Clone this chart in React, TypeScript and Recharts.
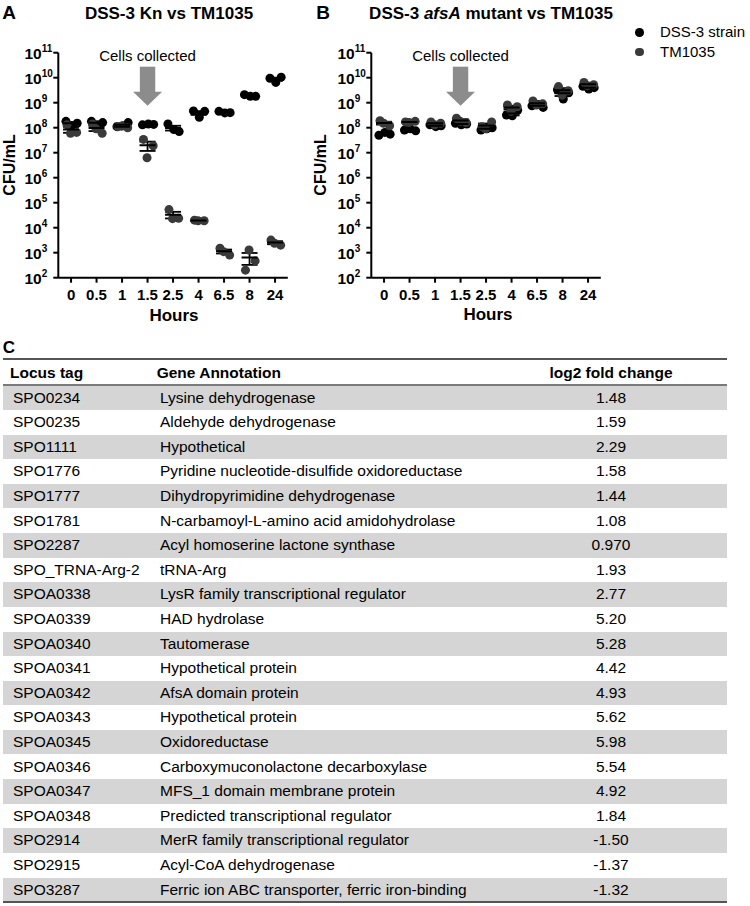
import { ScatterChart, Scatter, XAxis, YAxis, ErrorBar, ReferenceDot } from 'recharts'

const FONT = '"Liberation Sans", Arial, Helvetica, sans-serif'
const DSS_COLOR = '#000000'
const TM_COLOR = '#3a3a3a'
const ARROW_COLOR = '#8c8c8c'

// x categories (hours) and y ticks
const hours = ['0', '0.5', '1', '1.5', '2.5', '4', '6.5', '8', '24']
const collectedAt = '1.5'
const yTicks = [1e2, 1e3, 1e4, 1e5, 1e6, 1e7, 1e8, 1e9, 1e10, 1e11]

// panel A: DSS-3 Kn vs TM1035, CFU/mL, three replicates per time point
const knDss3 = [
  [1.8e8, 1.2e8, 1.5e8],
  [1.8e8, 1.3e8, 1.6e8],
  [1.1e8, 1.2e8, 1.6e8],
  [1.3e8, 1.4e8, 1.35e8],
  [1.4e8, 8.5e7, 7e7],
  [4.7e8, 2.6e8, 4.5e8],
  [4.5e8, 3.9e8, 4.0e8],
  [2.1e9, 1.8e9, 1.8e9],
  [9.5e9, 6.5e9, 1.05e10],
]
const knTm1035 = [
  [1.3e8, 6.5e7, 6e7],
  [1.4e8, 6e7, 9e7],
  [1.1e8, 1.0e8, 1.15e8],
  [3.4e7, 1.9e7, 6.3e6],
  [5.3e4, 2.4e4, 2.3e4],
  [2.0e4, 1.9e4, 1.9e4],
  [1.5e3, 8e2, 1.1e3],
  [2.0e2, 4.7e2, 1.28e3],
  [3.2e3, 2.0e3, 2.4e3],
]

// panel B: DSS-3 afsA mutant vs TM1035
const afsDss3 = [
  [5e7, 6.5e7, 5.5e7],
  [8e7, 9e7, 7.5e7],
  [1.3e8, 1.1e8, 1.2e8],
  [1.5e8, 1.3e8, 1.4e8],
  [8e7, 9e7, 1.0e8],
  [3.2e8, 3.0e8, 5.0e8],
  [7.5e8, 8.5e8, 6.5e8],
  [3.3e9, 1.4e9, 2.5e9],
  [4.5e9, 3.5e9, 4.0e9],
]
const afsTm1035 = [
  [1.9e8, 1.2e8, 1.5e8],
  [1.7e8, 1.8e8, 1.6e8],
  [1.7e8, 1.5e8, 1.3e8],
  [2.4e8, 1.6e8, 1.8e8],
  [1.1e8, 1.7e8, 9e7],
  [8.1e8, 6.9e8, 4.5e8],
  [1.17e9, 9e8, 8e8],
  [4.4e9, 3.0e9, 2.0e9],
  [6.5e9, 5.2e9, 4.8e9],
]

// panel C table
const locusTags = [
  'SPO0234', 'SPO0235', 'SPO1111', 'SPO1776', 'SPO1777', 'SPO1781', 'SPO2287', 'SPO_TRNA-Arg-2',
  'SPOA0338', 'SPOA0339', 'SPOA0340', 'SPOA0341', 'SPOA0342', 'SPOA0343', 'SPOA0345', 'SPOA0346',
  'SPOA0347', 'SPOA0348', 'SPO2914', 'SPO2915', 'SPO3287',
]
const annotations = [
  'Lysine dehydrogenase',
  'Aldehyde dehydrogenase',
  'Hypothetical',
  'Pyridine nucleotide-disulfide oxidoreductase',
  'Dihydropyrimidine dehydrogenase',
  'N-carbamoyl-L-amino acid amidohydrolase',
  'Acyl homoserine lactone synthase',
  'tRNA-Arg',
  'LysR family transcriptional regulator',
  'HAD hydrolase',
  'Tautomerase',
  'Hypothetical protein',
  'AfsA domain protein',
  'Hypothetical protein',
  'Oxidoreductase',
  'Carboxymuconolactone decarboxylase',
  'MFS_1 domain membrane protein',
  'Predicted transcriptional regulator',
  'MerR family transcriptional regulator',
  'Acyl-CoA dehydrogenase',
  'Ferric ion ABC transporter, ferric iron-binding',
]
const foldChanges = [
  '1.48', '1.59', '2.29', '1.58', '1.44', '1.08', '0.970', '1.93', '2.77', '5.20', '5.28',
  '4.42', '4.93', '5.62', '5.98', '5.54', '4.92', '1.84', '-1.50', '-1.37', '-1.32',
]

const JITTER_DSS = [-0.2, 0.03, 0.24]
const JITTER_TM = [-0.16, 0.22, -0.02]

function points(reps: number[][], jitter: number[]) {
  return reps.flatMap((vals, i) => vals.map((v, j) => ({ x: i + jitter[j], y: v })))
}

function meanSem(reps: number[][]) {
  return reps.map((vals, i) => {
    const n = vals.length
    const m = vals.reduce((a, b) => a + b, 0) / n
    const sd = Math.sqrt(vals.reduce((a, b) => a + (b - m) ** 2, 0) / (n - 1))
    const sem = sd / Math.sqrt(n)
    return { x: i, y: m, err: [Math.min(sem, m * 0.95), sem] }
  })
}

const dot = (color: string) => (p: any) => <circle cx={p.cx} cy={p.cy} r={4.5} fill={color} />

const MeanBar = (p: any) => (
  <line x1={p.cx - 8} x2={p.cx + 8} y1={p.cy} y2={p.cy} stroke="#000" strokeWidth={2} />
)

const CollectedArrow = (p: any) => {
  const { cx, cy } = p
  return (
    <g>
      <text x={cx} y={cy + 8} textAnchor="middle" fontSize={15} fontFamily={FONT} fill="#000">
        Cells collected
      </text>
      <rect x={cx - 7.7} y={cy + 14} width={15.4} height={25.5} fill={ARROW_COLOR} />
      <polygon
        points={`${cx - 14.5},${cy + 39} ${cx + 14.5},${cy + 39} ${cx},${cy + 53}`}
        fill={ARROW_COLOR}
      />
    </g>
  )
}

function PowTick({ x, y, payload }: any) {
  const exp = Math.round(Math.log10(payload.value))
  return (
    <text x={x - 28.8} y={y + 6.5} fontSize={15.5} fontWeight="bold" fontFamily={FONT} fill="#000">
      10
      <tspan dy={-7} fontSize={10}>{exp}</tspan>
    </text>
  )
}

function Panel({ dss, tm }: { dss: number[][]; tm: number[][] }) {
  return (
    <ScatterChart width={300} height={330} margin={{ top: 52.7, right: 12.2, bottom: 22.3, left: 13.3 }}>
      <XAxis
        type="number"
        dataKey="x"
        domain={[-0.5, hours.length - 0.5]}
        ticks={hours.map((_, i) => i)}
        tickFormatter={(v: number) => hours[v]}
        interval={0}
        allowDataOverflow
        height={30}
        tickSize={5}
        tickMargin={6.5}
        axisLine={{ stroke: '#000', strokeWidth: 2 }}
        tickLine={{ stroke: '#000', strokeWidth: 2 }}
        tick={{ fill: '#000', fontSize: 15, fontWeight: 'bold', fontFamily: FONT }}
      />
      <YAxis
        type="number"
        dataKey="y"
        scale="log"
        domain={[1e2, 1e11]}
        ticks={yTicks}
        interval={0}
        allowDataOverflow
        width={45}
        tickSize={5}
        tickMargin={0}
        axisLine={{ stroke: '#000', strokeWidth: 2 }}
        tickLine={{ stroke: '#000', strokeWidth: 2 }}
        tick={<PowTick />}
      />
      <ReferenceDot
        x={hours.indexOf(collectedAt)}
        y={1e11}
        r={0}
        ifOverflow="visible"
        shape={CollectedArrow}
      />
      <Scatter data={points(dss, JITTER_DSS)} shape={dot(DSS_COLOR)} isAnimationActive={false} />
      <Scatter data={points(tm, JITTER_TM)} shape={dot(TM_COLOR)} isAnimationActive={false} />
      <Scatter data={meanSem(dss)} shape={MeanBar} isAnimationActive={false}>
        <ErrorBar dataKey="err" direction="y" width={8} stroke="#000" strokeWidth={1.8} isAnimationActive={false} />
      </Scatter>
      <Scatter data={meanSem(tm)} shape={MeanBar} isAnimationActive={false}>
        <ErrorBar dataKey="err" direction="y" width={8} stroke="#000" strokeWidth={1.8} isAnimationActive={false} />
      </Scatter>
    </ScatterChart>
  )
}

function Txt({ x, y, size, bold, rotate, children }: any) {
  return (
    <div
      style={{
        position: 'absolute',
        left: x,
        top: y,
        transform: `translate(-50%, -50%)${rotate ? ' rotate(-90deg)' : ''}`,
        whiteSpace: 'nowrap',
        fontSize: size,
        fontWeight: bold ? 'bold' : 'normal',
        lineHeight: 1,
      }}
    >
      {children}
    </div>
  )
}

const ROW_H = 24.6
const ROWS_TOP = 385.5
const TABLE_FONT = 15.5

export default function App() {
  return (
    <div
      style={{
        position: 'absolute',
        left: 0,
        top: 0,
        width: 750,
        height: 906,
        background: '#fff',
        fontFamily: FONT,
        color: '#000',
        overflow: 'hidden',
      }}
    >
      <div style={{ position: 'absolute', left: 0, top: 0 }}>
        <Panel dss={knDss3} tm={knTm1035} />
      </div>
      <div style={{ position: 'absolute', left: 313.4, top: 0 }}>
        <Panel dss={afsDss3} tm={afsTm1035} />
      </div>

      <Txt x={9} y={12} size={19} bold>A</Txt>
      <Txt x={169} y={12.5} size={17} bold>DSS-3 Kn vs TM1035</Txt>
      <Txt x={10} y={165} size={16} bold rotate>CFU/mL</Txt>
      <Txt x={174} y={315} size={17} bold>Hours</Txt>

      <Txt x={323} y={12} size={19} bold>B</Txt>
      <Txt x={491} y={12.5} size={17} bold>
        DSS-3 <i>afsA</i> mutant vs TM1035
      </Txt>
      <Txt x={321} y={165} size={16} bold rotate>CFU/mL</Txt>
      <Txt x={488} y={314} size={17} bold>Hours</Txt>

      {/* legend */}
      {[
        { name: 'DSS-3 strain', color: DSS_COLOR, y: 32.3 },
        { name: 'TM1035', color: TM_COLOR, y: 52 },
      ].map((it) => (
        <div key={it.name}>
          <div
            style={{
              position: 'absolute',
              left: 639.3 - 4.3,
              top: it.y - 4.3,
              width: 8.6,
              height: 8.6,
              borderRadius: '50%',
              background: it.color,
            }}
          />
          <div style={{ position: 'absolute', left: 660, top: it.y - 8, fontSize: 15, lineHeight: '16px' }}>
            {it.name}
          </div>
        </div>
      ))}

      {/* table */}
      <Txt x={9} y={347} size={17} bold>C</Txt>
      <div style={{ position: 'absolute', left: 3, top: 358, width: 724, height: 2, background: '#555' }} />
      <div style={{ position: 'absolute', left: 10, top: 364.5, fontSize: TABLE_FONT, fontWeight: 'bold', lineHeight: '16px' }}>
        Locus tag
      </div>
      <div style={{ position: 'absolute', left: 156.7, top: 364.5, fontSize: TABLE_FONT, fontWeight: 'bold', lineHeight: '16px' }}>
        Gene Annotation
      </div>
      <div
        style={{
          position: 'absolute',
          left: 611,
          top: 364.5,
          transform: 'translateX(-50%)',
          whiteSpace: 'nowrap',
          fontSize: TABLE_FONT,
          fontWeight: 'bold',
          lineHeight: '16px',
        }}
      >
        log2 fold change
      </div>
      <div style={{ position: 'absolute', left: 3, top: 384, width: 724, height: 1.5, background: '#7a7a7a' }} />
      {locusTags.map((tag, i) => {
        const top = ROWS_TOP + i * ROW_H
        return (
          <div
            key={tag + i}
            style={{
              position: 'absolute',
              left: 3,
              top,
              width: 724,
              height: ROW_H,
              background: i % 2 === 0 ? '#d5d5d5' : '#fff',
              fontSize: TABLE_FONT,
              lineHeight: `${ROW_H}px`,
              whiteSpace: 'nowrap',
            }}
          >
            <span style={{ position: 'absolute', left: 10 }}>{tag}</span>
            <span style={{ position: 'absolute', left: 157 }}>{annotations[i]}</span>
            <span style={{ position: 'absolute', left: 608, transform: 'translateX(-50%)' }}>{foldChanges[i]}</span>
          </div>
        )
      })}
      <div
        style={{
          position: 'absolute',
          left: 3,
          top: ROWS_TOP + locusTags.length * ROW_H - 1,
          width: 724,
          height: 2,
          background: '#555',
        }}
      />
    </div>
  )
}
